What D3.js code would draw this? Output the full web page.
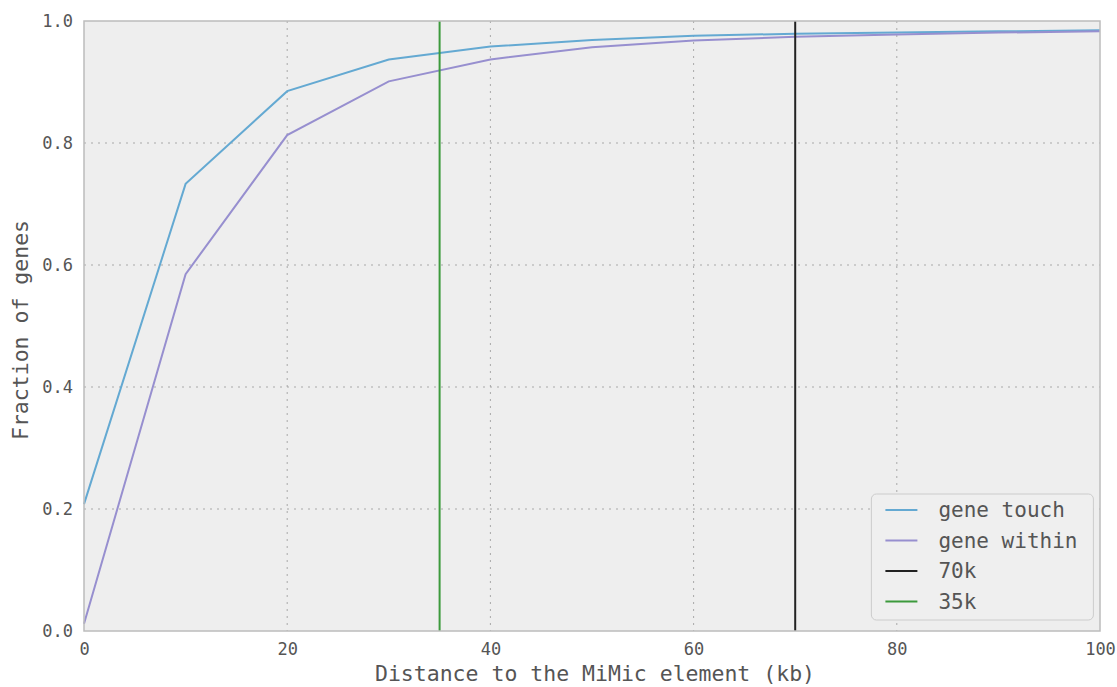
<!DOCTYPE html>
<html>
<head>
<meta charset="utf-8">
<script src="https://cdn.jsdelivr.net/npm/d3@7"></script>
<style>
  body { margin: 0; background: #fff; }
  text { font-family: "DejaVu Sans Mono", monospace; fill: #555; }
</style>
</head>
<body>
<div id="chart"></div>
<script>
const WIDTH = 1117, HEIGHT = 687

// plot box in page pixels
var margin = {top: 21, right: 17, bottom: 56, left: 84},
    width = WIDTH - margin.left - margin.right,
    height = HEIGHT - margin.top - margin.bottom;

// data
var distances = [0, 10, 20, 30, 40, 50, 60, 70, 80, 90, 100]
var geneTouch = [0.208, 0.733, 0.885, 0.937, 0.958, 0.969, 0.976, 0.979, 0.981, 0.983, 0.985]
var geneWithin = [0.012, 0.585, 0.813, 0.901, 0.937, 0.957, 0.968, 0.974, 0.978, 0.981, 0.983]
var vlines = [70, 35]
var vlineNames = ["70k", "35k"]
var xTicks = [0, 20, 40, 60, 80, 100]
var yTicks = [0.0, 0.2, 0.4, 0.6, 0.8, 1.0]

var series = [
  {name: "gene touch", values: geneTouch, color: "#64a9d2"},
  {name: "gene within", values: geneWithin, color: "#978fcf"}
]
var vcolors = ["#222222", "#3c9a3c"]

var svg = d3.select("#chart")
  .append("svg")
  .attr("width", WIDTH)
  .attr("height", HEIGHT)
  .append("g")
  .attr("transform", "translate(" + margin.left + "," + margin.top + ")");

var x = d3.scaleLinear().domain([0, 100]).range([0, width])
var y = d3.scaleLinear().domain([0, 1]).range([height, 0])

// background
svg.append("rect")
  .attr("width", width)
  .attr("height", height)
  .attr("fill", "#eeeeee")

// grid, dotted
svg.selectAll(".xgrid")
  .data(xTicks.slice(1, -1))
  .enter().append("line")
  .attr("x1", d => x(d)).attr("x2", d => x(d))
  .attr("y1", 0).attr("y2", height)
  .attr("stroke", "#a8a8a8")
  .attr("stroke-dasharray", "2,5")

svg.selectAll(".ygrid")
  .data(yTicks.slice(1, -1))
  .enter().append("line")
  .attr("y1", d => y(d)).attr("y2", d => y(d))
  .attr("x1", 0).attr("x2", width)
  .attr("stroke", "#a8a8a8")
  .attr("stroke-dasharray", "2,5")

// the curves
var line = d3.line()
  .x((d, i) => x(distances[i]))
  .y(d => y(d))

series.forEach(function(s) {
  svg.append("path")
    .datum(s.values)
    .attr("d", line)
    .attr("fill", "none")
    .attr("stroke", s.color)
    .attr("stroke-width", 2)
})

// vertical markers
vlines.forEach(function(v, i) {
  svg.append("line")
    .attr("x1", x(v)).attr("x2", x(v))
    .attr("y1", 0).attr("y2", height)
    .attr("stroke", vcolors[i])
    .attr("stroke-width", 2)
})

// frame
svg.append("rect")
  .attr("width", width)
  .attr("height", height)
  .attr("fill", "none")
  .attr("stroke", "#bcbcbc")
  .attr("stroke-width", 1.5)

// axes, no tick marks
var xAxis = svg.append("g")
  .attr("transform", "translate(0," + height + ")")
  .call(d3.axisBottom(x).tickValues(xTicks).tickSize(0).tickPadding(12).tickFormat(d3.format("d")))
xAxis.select(".domain").remove()
xAxis.selectAll("text")
  .style("font-size", "17px")
  .style("font-family", "DejaVu Sans Mono, monospace")
  .attr("fill", "#555")

var yAxis = svg.append("g")
  .call(d3.axisLeft(y).tickValues(yTicks).tickSize(0).tickPadding(11).tickFormat(d3.format(".1f")))
yAxis.select(".domain").remove()
yAxis.selectAll("text")
  .style("font-size", "17px")
  .style("font-family", "DejaVu Sans Mono, monospace")
  .attr("fill", "#555")

// axis labels
svg.append("text")
  .attr("x", width / 2 + 3)
  .attr("y", height + 50)
  .style("text-anchor", "middle")
  .style("font-size", "21.5px")
  .text("Distance to the MiMic element (kb)")

svg.append("text")
  .attr("transform", "rotate(-90)")
  .attr("x", -height / 2 - 4)
  .attr("y", -margin.left + 28)
  .style("text-anchor", "middle")
  .style("font-size", "21.5px")
  .text("Fraction of genes")

// legend
var legendItems = series.map(s => ({name: s.name, color: s.color}))
  .concat(vlineNames.map((n, i) => ({name: n, color: vcolors[i]})))

var legend = svg.append("g")
  .attr("transform", "translate(" + (x(77.5)) + "," + (height - 137) + ")")

legend.append("rect")
  .attr("width", 222)
  .attr("height", 126)
  .attr("rx", 5)
  .attr("fill", "#efefef")
  .attr("stroke", "#cccccc")

legendItems.forEach(function(d, i) {
  var ly = 16 + i * 30.5
  legend.append("line")
    .attr("x1", 14).attr("x2", 46)
    .attr("y1", ly).attr("y2", ly)
    .attr("stroke", d.color)
    .attr("stroke-width", 2)
  legend.append("text")
    .attr("x", 67)
    .attr("y", ly)
    .attr("dy", "0.35em")
    .style("font-size", "21px")
    .attr("fill", "#444")
    .text(d.name)
})
</script>
</body>
</html>
